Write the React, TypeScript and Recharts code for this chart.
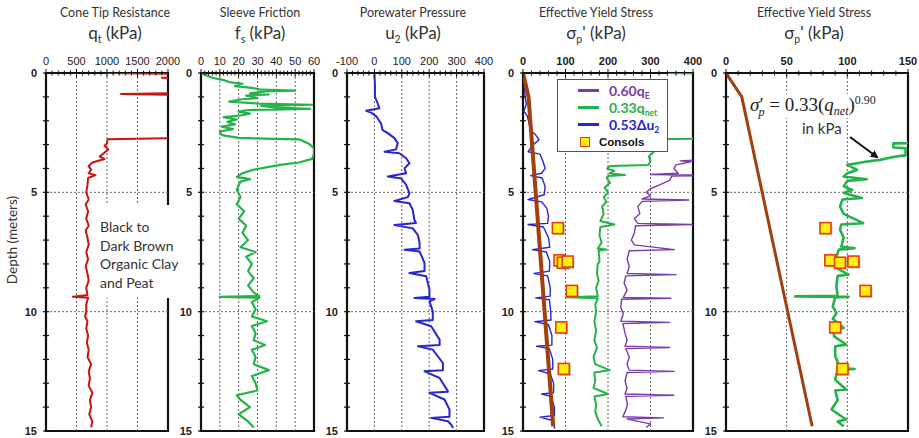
import { LineChart, Line, XAxis, YAxis, ReferenceLine, ReferenceArea } from 'recharts'

// every profile is [depth (m), value (kPa)]
const QT = [
  [0, 1000], [0.04, 2400], [0.18, 2400], [0.2, 1900], [0.23, 2400], [0.84, 2400], [0.88, 1230], [0.93, 2400],
  [2.72, 2400], [2.78, 1010], [2.95, 1000], [3.05, 960], [3.2, 1020], [3.4, 930], [3.5, 880], [3.6, 960],
  [3.75, 760], [3.9, 700], [4.05, 740], [4.2, 700], [4.28, 810], [4.4, 690], [4.7, 680], [5.0, 660],
  [5.3, 700], [5.5, 650], [5.8, 690], [6.1, 660], [6.4, 700], [6.6, 650], [6.9, 680], [7.2, 700],
  [7.5, 660], [7.8, 690], [8.1, 650], [8.4, 680], [8.7, 700], [9.0, 660], [9.3, 680], [9.37, 440],
  [9.42, 690], [9.7, 660], [10.0, 660], [10.2, 640], [10.4, 680], [10.7, 660], [11.0, 690], [11.3, 670],
  [11.6, 700], [11.9, 680], [12.2, 740], [12.5, 700], [12.8, 720], [13.1, 700], [13.4, 760], [13.7, 720],
  [14.0, 740], [14.3, 710], [14.6, 760], [14.85, 740],
]

const FS = [
  [0, 0], [0.2, 6], [0.3, 12], [0.38, 15], [0.45, 22], [0.55, 18], [0.62, 27], [0.7, 32], [0.74, 50],
  [0.77, 34], [0.85, 26], [0.9, 36], [0.95, 24], [1.05, 30], [1.1, 22], [1.2, 15], [1.28, 30], [1.33, 59],
  [1.38, 32], [1.45, 40], [1.5, 58], [1.55, 25], [1.62, 20], [1.7, 26], [1.78, 21], [1.85, 12], [1.95, 19],
  [2.05, 14], [2.15, 18], [2.25, 11], [2.35, 17], [2.45, 10], [2.6, 11], [2.72, 20], [2.78, 52], [2.95, 57],
  [3.15, 60], [3.4, 60], [3.6, 59], [3.75, 52], [3.85, 42], [4.05, 28], [4.2, 22], [4.35, 19], [4.45, 26],
  [4.55, 21], [4.7, 20], [4.9, 19], [5.2, 21], [5.5, 19], [5.8, 23], [6.1, 20], [6.4, 24], [6.7, 22],
  [7.0, 25], [7.3, 21], [7.5, 29], [7.7, 24], [8.0, 27], [8.3, 25], [8.6, 28], [8.9, 25], [9.2, 28],
  [9.35, 31], [9.38, 10], [9.42, 31], [9.6, 27], [9.9, 29], [10.2, 27], [10.4, 35], [10.6, 27], [10.9, 29],
  [11.2, 28], [11.4, 34], [11.6, 27], [11.9, 29], [12.2, 28], [12.45, 36], [12.7, 27], [13.0, 29],
  [13.3, 30], [13.5, 19], [13.7, 21], [14.0, 26], [14.3, 20], [14.6, 25], [14.85, 28],
]

const U2 = [
  [0, 0], [0.5, 2], [1.0, 2], [1.27, 12], [1.48, 18], [1.58, -30], [1.66, -12], [1.83, 8], [2.11, 24],
  [2.39, 30], [2.52, 49], [2.73, 73], [2.94, 85], [3.2, 79], [3.3, 37], [3.36, 91], [3.57, 116], [3.78, 128],
  [3.99, 110], [4.2, 116], [4.34, 49], [4.42, 98], [4.69, 116], [5.04, 128], [5.2, 122], [5.36, 73],
  [5.46, 128], [5.74, 140], [6.16, 146], [6.28, 152], [6.37, 73], [6.51, 140], [6.79, 159], [7.13, 165],
  [7.35, 165], [7.41, 110], [7.48, 165], [7.96, 183], [8.3, 183], [8.38, 128], [8.52, 189], [9.08, 201],
  [9.38, 201], [9.43, 146], [9.47, 220], [9.57, 201], [9.99, 213], [10.35, 213], [10.4, 152], [10.61, 207],
  [11.17, 238], [11.4, 238], [11.45, 159], [11.59, 213], [12.15, 250], [12.45, 250], [12.5, 183],
  [12.78, 238], [13.33, 268], [13.36, 268], [13.4, 201], [13.68, 256], [14.1, 274], [14.4, 274],
  [14.45, 207], [14.59, 268], [14.73, 280], [14.87, 287],
]

// 0.60 qE
const SP_QE = [
  [3.6, 460], [3.68, 370], [3.72, 395], [3.85, 360], [4.0, 355], [4.2, 365], [4.25, 300], [4.29, 460],
  [4.32, 350], [4.5, 345], [4.7, 320], [4.85, 300], [5.0, 290], [5.15, 300], [5.28, 280], [5.32, 390],
  [5.38, 280], [5.6, 270], [5.9, 275], [6.1, 262], [6.3, 270], [6.35, 400], [6.4, 265], [6.7, 262],
  [7.0, 255], [7.2, 262], [7.4, 356], [7.45, 250], [7.8, 245], [8.1, 250], [8.4, 245], [8.45, 360],
  [8.5, 242], [8.8, 238], [9.1, 245], [9.4, 236], [9.44, 348], [9.48, 232], [9.8, 230], [10.1, 236],
  [10.4, 230], [10.45, 345], [10.5, 235], [10.9, 240], [11.2, 245], [11.45, 240], [11.5, 345], [11.55, 242],
  [11.9, 250], [12.2, 245], [12.45, 250], [12.5, 356], [12.55, 245], [12.9, 240], [13.2, 245], [13.45, 240],
  [13.5, 355], [13.55, 242], [13.9, 246], [14.2, 240], [14.4, 235], [14.45, 330], [14.5, 245], [14.7, 300],
  [14.85, 290],
]

// 0.33 qnet
const SP_QNET = [
  [0, 340], [0.04, 460], [2.74, 460], [2.78, 314], [2.95, 305], [3.1, 300], [3.3, 308], [3.5, 296],
  [3.7, 300], [3.85, 295], [3.9, 205], [4.0, 198], [4.1, 215], [4.2, 204], [4.27, 240], [4.32, 200],
  [4.4, 197], [4.6, 205], [4.8, 192], [5.0, 200], [5.2, 190], [5.4, 196], [5.6, 186], [5.9, 190],
  [6.2, 182], [6.35, 215], [6.45, 182], [6.8, 180], [7.1, 185], [7.35, 176], [7.4, 196], [7.45, 178],
  [7.9, 180], [8.0, 176], [8.4, 174], [8.7, 178], [9.0, 172], [9.35, 176], [9.4, 103], [9.44, 176],
  [9.7, 170], [10.0, 172], [10.4, 168], [10.8, 172], [11.2, 168], [11.5, 174], [11.9, 166], [12.2, 170],
  [12.45, 204], [12.55, 168], [12.9, 170], [13.2, 166], [13.45, 200], [13.55, 168], [13.9, 172],
  [14.2, 170], [14.5, 176], [14.8, 185],
]

// 0.53 du2
const SP_DU = [
  [0, 0], [0.5, 3], [1.0, 5], [1.3, 8], [1.6, 2], [1.8, 10], [2.1, 14], [2.4, 18], [2.6, 30], [2.8, 38],
  [3.0, 24], [3.3, 12], [3.4, 40], [3.7, 47], [4.0, 52], [4.2, 44], [4.3, 18], [4.4, 45], [4.75, 52],
  [5.1, 50], [5.3, 12], [5.4, 44], [5.66, 56], [6.0, 60], [6.3, 58], [6.35, 12], [6.45, 48], [6.9, 60],
  [7.3, 63], [7.4, 22], [7.5, 55], [7.9, 63], [8.3, 62], [8.4, 26], [8.5, 58], [9.0, 64], [9.35, 64],
  [9.42, 30], [9.5, 62], [9.95, 65], [10.35, 66], [10.42, 28], [10.55, 60], [11.0, 68], [11.4, 68],
  [11.45, 32], [11.55, 62], [12.0, 70], [12.4, 70], [12.47, 36], [12.6, 64], [13.0, 72], [13.4, 72],
  [13.45, 44], [13.55, 66], [14.0, 74], [14.35, 74], [14.42, 40], [14.55, 68], [14.9, 75],
]

const SIG_VO = [[0, 0], [1, 13], [14.8, 71]]

// 0.33 (qnet)^0.90
const SP_POW = [
  [2.9, 170], [2.94, 150], [2.95, 138], [3.12, 138], [3.15, 148], [3.45, 148], [3.5, 140], [3.55, 135],
  [3.64, 127], [3.72, 115], [3.78, 108], [3.85, 100], [4.06, 108], [4.2, 100], [4.34, 97], [4.45, 116],
  [4.52, 100], [4.75, 97], [4.9, 104], [5.03, 97], [5.24, 112], [5.3, 96], [5.6, 94], [5.9, 97],
  [6.29, 113], [6.35, 95], [6.57, 94], [6.9, 97], [7.27, 95], [7.34, 106], [7.4, 93], [7.7, 91],
  [8.0, 94], [8.2, 92], [8.45, 101], [8.5, 92], [8.94, 91], [9.34, 92], [9.36, 57], [9.38, 101],
  [9.4, 90], [9.78, 88], [10.06, 91], [10.3, 88], [10.68, 97], [10.75, 89], [11.03, 89], [11.38, 99],
  [11.45, 90], [11.87, 90], [12.36, 94], [12.4, 106], [12.45, 92], [12.85, 90], [13.26, 99], [13.3, 90],
  [13.7, 92], [14.1, 87], [14.52, 99], [14.6, 92], [14.8, 97],
]

const CONSOLS = [[6.5, 82], [7.85, 86], [7.95, 94], [7.9, 105], [9.13, 115], [10.66, 90], [12.4, 96]]

const DEPTH_TICKS = [0, 1, 2, 3, 4, 5, 6, 7, 8, 9, 10, 11, 12, 13, 14, 15]
const DEPTH_LABELS = [0, 5, 10, 15]

const RED = '#c81414'
const GREEN = '#25b24a'
const BLUE = '#2626d2'
const PURPLE = '#7a3ca8'
const BROWN = '#a1400e'

const range = (a: number, b: number, s: number) =>
  Array.from({ length: Math.round((b - a) / s) + 1 }, (_, i) => a + i * s)
const toPts = (rows: number[][]) => rows.map(([d, v]) => ({ d, v }))

type Series = { rows: number[][]; color: string; width: number }

interface PanelProps {
  plotLeft: number
  plotW: number
  yw?: number
  domain: [number, number]
  step: number
  majors: number[]
  bold?: boolean
  series: Series[]
  consols?: number[][]
}

function Square(p: any) {
  const { cx, cy, index } = p
  if (cx == null || cy == null) return <g key={index} />
  return (
    <g key={index}>
      <rect x={cx - 4} y={cy - 4} width={11} height={11} fill="#888" opacity={0.45} />
      <rect x={cx - 5.5} y={cy - 5.5} width={11} height={11} fill="#ffee10" stroke="#e0400a" strokeWidth={1.6} />
    </g>
  )
}

const RIGHT = 18

function Panel({ plotLeft, plotW, yw = 28, domain, step, majors, bold, series, consols }: PanelProps) {
  const ticks = range(domain[0], domain[1], step)
  const inner = majors.filter((m) => m > domain[0] && m < domain[1])
  const font = "'Liberation Sans', Arial, sans-serif"

  const topTick = (p: any) => {
    const val = p.payload.value
    const major = majors.includes(val)
    return (
      <g>
        <line x1={p.x} x2={p.x} y1={major ? 69 : 70.5} y2={major ? 77 : 75.5} stroke="#111" strokeWidth={1} />
        {major && (
          <text x={p.x} y={65} textAnchor="middle" fontSize={11} fontFamily={font} fontWeight={bold ? 700 : 400} fill="#222">
            {val}
          </text>
        )}
      </g>
    )
  }

  const leftTick = (p: any) => {
    const val = p.payload.value
    const major = DEPTH_LABELS.includes(val)
    return (
      <g>
        <line x1={yw - 3} x2={yw + 3} y1={p.y} y2={p.y} stroke="#111" strokeWidth={1.2} />
        {major && (
          <text x={yw - 9} y={p.y + 4} textAnchor="end" fontSize={11} fontFamily={font} fontWeight={700} fill="#222">
            {val}
          </text>
        )}
      </g>
    )
  }

  return (
    <div style={{ position: 'absolute', left: plotLeft - yw, top: 0 }}>
      <LineChart width={yw + plotW + RIGHT} height={438} margin={{ top: 53, right: RIGHT, bottom: 7, left: 0 }}>
        <XAxis
          type="number"
          dataKey="v"
          orientation="top"
          domain={domain}
          allowDataOverflow
          ticks={ticks}
          interval={0}
          height={20}
          axisLine={false}
          tickLine={false}
          tick={topTick}
        />
        <YAxis
          type="number"
          dataKey="d"
          domain={[0, 15]}
          reversed
          allowDataOverflow
          ticks={DEPTH_TICKS}
          interval={0}
          width={yw}
          axisLine={false}
          tickLine={false}
          tick={leftTick}
        />
        {inner.map((m) => (
          <ReferenceLine key={'gx' + m} x={m} stroke="#666" strokeWidth={1} strokeDasharray="2 2" />
        ))}
        <ReferenceLine y={5} stroke="#666" strokeWidth={1} strokeDasharray="2 2" />
        <ReferenceLine y={10} stroke="#666" strokeWidth={1} strokeDasharray="2 2" />
        {series.map((s, i) => (
          <Line
            key={'s' + i}
            data={toPts(s.rows)}
            dataKey="d"
            stroke={s.color}
            strokeWidth={s.width}
            strokeLinejoin="round"
            dot={false}
            isAnimationActive={false}
          />
        ))}
        {consols && (
          <Line data={toPts(consols)} dataKey="d" stroke="none" dot={Square} isAnimationActive={false} />
        )}
        <ReferenceArea x1={domain[0]} x2={domain[1]} y1={0} y2={15} fill="none" stroke="#111" strokeWidth={2.2} />
      </LineChart>
    </div>
  )
}

const titleFont = "Lato, 'Open Sans', sans-serif"
const sub = { fontSize: '0.62em', position: 'relative' as const, top: '0.35em' }

function Title({ cx, top, sub: second }: { cx: number; top: string; sub: React.ReactNode }) {
  return (
    <>
      <div style={{ position: 'absolute', left: cx - 90, width: 180, top: 4, textAlign: 'center', fontFamily: titleFont, fontSize: 12.5, lineHeight: '18px', color: '#333' }}>
        {top}
      </div>
      <div style={{ position: 'absolute', left: cx - 90, width: 180, top: 22, textAlign: 'center', fontFamily: titleFont, fontSize: 17, lineHeight: '22px', color: '#333' }}>
        {second}
      </div>
    </>
  )
}

function LegendRow({ color, children }: { color: string; children: React.ReactNode }) {
  return (
    <div style={{ display: 'flex', alignItems: 'center', height: 17 }}>
      <div style={{ width: 21, height: 2.5, background: color, marginLeft: 20, marginRight: 10 }} />
      <span style={{ color, fontFamily: titleFont, fontWeight: 700, fontSize: 14 }}>{children}</span>
    </div>
  )
}

export default function App() {
  return (
    <div style={{ position: 'absolute', left: 0, top: 0, width: 919, height: 438, background: '#fff', overflow: 'hidden' }}>
      <Title cx={115} top="Cone Tip Resistance" sub={<>q<span style={sub}>t</span> (kPa)</>} />
      <Title cx={260} top="Sleeve Friction" sub={<>f<span style={sub}>s</span> (kPa)</>} />
      <Title cx={413} top="Porewater Pressure" sub={<>u<span style={sub}>2</span> (kPa)</>} />
      <Title cx={596} top="Effective Yield Stress" sub={<>σ<span style={sub}>p</span>' (kPa)</>} />
      <Title cx={814} top="Effective Yield Stress" sub={<>σ<span style={sub}>p</span>' (kPa)</>} />

      <div style={{ position: 'absolute', left: 12, top: 240, transform: 'translate(-50%, -50%) rotate(-90deg)', whiteSpace: 'nowrap', fontFamily: titleFont, fontSize: 13.5, color: '#333' }}>
        Depth (meters)
      </div>

      <Panel plotLeft={46} plotW={122} yw={46} domain={[0, 2000]} step={100} majors={[0, 500, 1000, 1500, 2000]}
        series={[{ rows: QT, color: RED, width: 2 }]} />
      <Panel plotLeft={201} plotW={113} domain={[0, 60]} step={2} majors={[0, 10, 20, 30, 40, 50, 60]}
        series={[{ rows: FS, color: GREEN, width: 2.2 }]} />
      <Panel plotLeft={347} plotW={137} domain={[-100, 400]} step={20} majors={[-100, 0, 100, 200, 300, 400]}
        series={[{ rows: U2, color: BLUE, width: 2 }]} />
      <Panel plotLeft={523} plotW={170} domain={[0, 400]} step={20} majors={[0, 100, 200, 300, 400]} bold
        series={[
          { rows: SP_QE, color: PURPLE, width: 1.4 },
          { rows: SP_QNET, color: GREEN, width: 2 },
          { rows: SP_DU, color: BLUE, width: 1.4 },
          { rows: SIG_VO, color: BROWN, width: 4 },
        ]}
        consols={CONSOLS} />
      <Panel plotLeft={726} plotW={182} domain={[0, 150]} step={10} majors={[0, 50, 100, 150]} bold
        series={[
          { rows: SIG_VO, color: BROWN, width: 3 },
          { rows: SP_POW, color: GREEN, width: 2.6 },
        ]}
        consols={CONSOLS} />

      <div style={{ position: 'absolute', left: 98, top: 205, width: 86, height: 93, background: '#fff', fontFamily: titleFont, fontSize: 14, lineHeight: '18.5px', color: '#333', paddingTop: 13, boxSizing: 'border-box', paddingLeft: 2, whiteSpace: 'nowrap' }}>
        Black to<br />Dark Brown<br />Organic Clay<br />and Peat
      </div>

      <div style={{ position: 'absolute', left: 557, top: 79, width: 111, height: 73, boxSizing: 'border-box', border: '1.5px solid #555', background: '#fff', paddingTop: 2 }}>
        <LegendRow color={PURPLE}>0.60q<span style={sub}>E</span></LegendRow>
        <LegendRow color={GREEN}>0.33q<span style={sub}>net</span></LegendRow>
        <LegendRow color={BLUE}>0.53Δu<span style={sub}>2</span></LegendRow>
        <div style={{ display: 'flex', alignItems: 'center', height: 18 }}>
          <div style={{ width: 8, height: 8, background: '#ffee10', border: '1.5px solid #e0400a', marginLeft: 22, marginRight: 9 }} />
          <span style={{ fontFamily: "'Liberation Sans', Arial, sans-serif", fontWeight: 700, fontSize: 11.5, color: '#111' }}>Consols</span>
        </div>
      </div>

      <div style={{ position: 'absolute', left: 750, top: 94, background: '#fff', fontFamily: "'Liberation Serif', 'DejaVu Serif', serif", fontSize: 19, lineHeight: '22px', color: '#222', whiteSpace: 'nowrap' }}>
        <i>σ</i>′<span style={{ fontSize: 12, position: 'relative', top: 5, marginLeft: -5 }}><i>p</i></span> = 0.33(<i>q</i><span style={{ fontSize: 12, position: 'relative', top: 4 }}><i>net</i></span>)<span style={{ fontSize: 12, position: 'relative', top: -7 }}>0.90</span>
      </div>
      <div style={{ position: 'absolute', left: 802, top: 119, fontFamily: titleFont, fontSize: 15, lineHeight: '18px', color: '#333' }}>
        in kPa
      </div>
      <svg style={{ position: 'absolute', left: 0, top: 0, pointerEvents: 'none' }} width={919} height={438}>
        <defs>
          <marker id="ah" markerWidth="8" markerHeight="8" refX="6" refY="4" orient="auto" markerUnits="userSpaceOnUse">
            <path d="M0,0 L8,4 L0,8 z" fill="#111" />
          </marker>
        </defs>
        <line x1={850} y1={137} x2={877} y2={157} stroke="#111" strokeWidth={2} markerEnd="url(#ah)" />
      </svg>
    </div>
  )
}
